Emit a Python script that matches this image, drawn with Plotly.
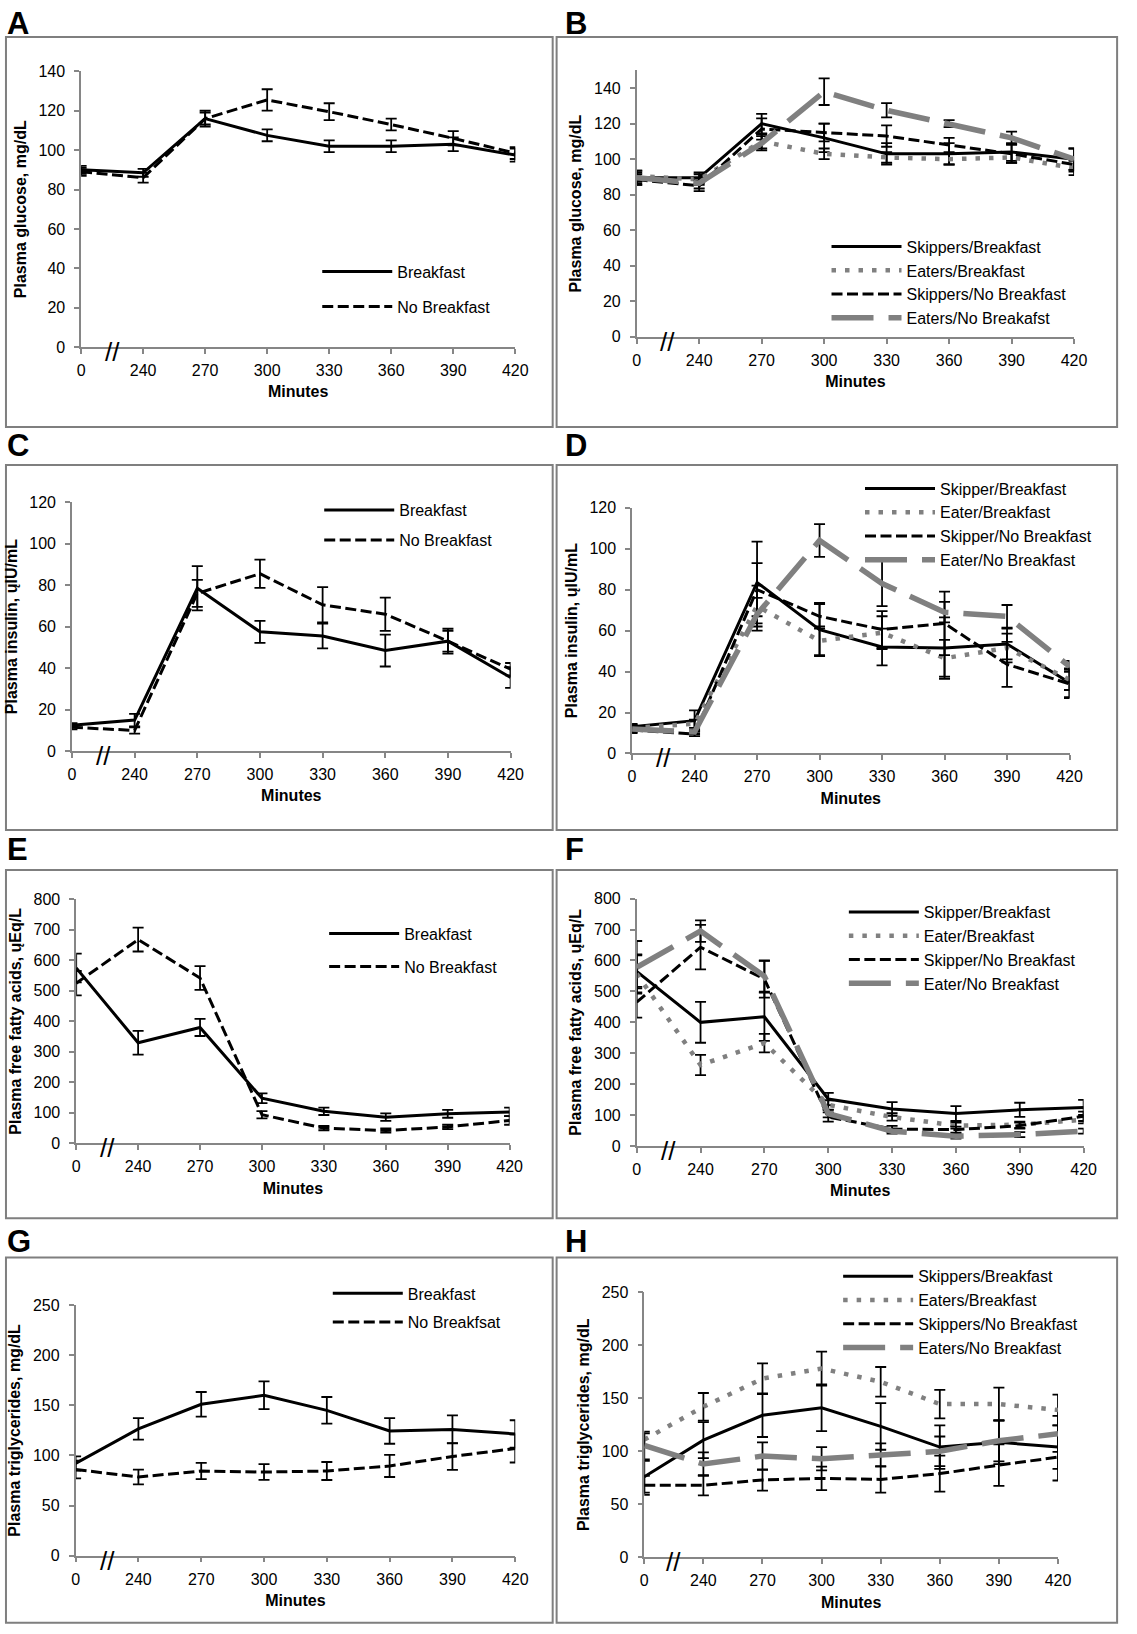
import plotly.graph_objects as go

# ---------------- data ----------------
minutes = ["0", "240", "270", "300", "330", "360", "390", "420"]

# A: plasma glucose
glu_breakfast = [90, 88.5, 116, 107.5, 102, 102, 103, 97.5]
glu_breakfast_err = [2, 2, 3, 3, 3, 3, 3.5, 3.3]
glu_nobreakfast = [89, 86, 116, 125.5, 119.5, 113, 106, 98.5]
glu_nobreakfast_err = [2, 2.5, 4, 5.4, 4.3, 3, 3.6, 3]

# B: plasma glucose by habitual group
glu_skip_b = [89.5, 89.5, 120, 112, 103, 103, 104, 100]
glu_skip_b_err = [4, 3, 5.5, 8, 6, 6, 5, 6]
glu_eat_b = [90.5, 88.5, 110, 103, 101, 100, 101, 95]
glu_eat_b_err = [3, 3, 4, 3, 3, 3, 3, 4]
glu_skip_nb = [88.5, 85, 117, 115, 113, 108, 103, 97]
glu_skip_nb_err = [3, 3, 6, 5, 6, 4, 5, 4]
glu_eat_nb = [89.5, 86.5, 109, 138, 127.5, 120, 112, 100]
glu_eat_nb_err = [3, 3, 4, 7.5, 4, 2, 3.5, 6]

# C: plasma insulin
ins_breakfast = [12.5, 15, 78.5, 57.5, 55.5, 48.5, 53, 35.5]
ins_breakfast_err = [1, 3, 10.7, 5.3, 6, 7.7, 5, 5]
ins_nobreakfast = [11.5, 10, 76, 85.5, 70.5, 66, 53, 39.5]
ins_nobreakfast_err = [1, 1.5, 6.5, 6.8, 8.5, 8, 6, 3]

# D: plasma insulin by habitual group
ins_skip_b = [13, 16, 83.5, 60.5, 52, 51.5, 53.5, 34.5]
ins_skip_b_err = [1.5, 5, 20, 13, 9, 15, 7.5, 7]
ins_eat_b = [12.5, 14.5, 72, 55, 59, 46.5, 51.5, 36]
ins_eat_b_err = [1.5, 2, 10, 7, 8, 9, 7, 5]
ins_skip_nb = [11.5, 9.5, 80, 67, 60.5, 63.5, 43.5, 34]
ins_skip_nb_err = [1.5, 1, 13, 6, 9, 15.5, 11, 7]
ins_eat_nb = [12, 10.5, 68, 104, 83, 69, 67, 42.5]
ins_eat_nb_err = [1.5, 1, 8, 8, 11, 5, 5.5, 2.7]

# E: plasma free fatty acids
ffa_breakfast = [575, 330, 380, 148, 105, 86, 97, 103]
ffa_breakfast_err = [47, 39, 28, 16, 12, 12, 13, 14]
ffa_nobreakfast = [525, 668, 542, 94, 50, 42, 54, 75]
ffa_nobreakfast_err = [40, 39, 39, 12, 7, 7, 7, 14]

# F: plasma free fatty acids by habitual group
ffa_skip_b = [565, 400, 418, 152, 120, 105, 117, 125]
ffa_skip_b_err = [55, 66, 78, 20, 22, 24, 23, 24]
ffa_eat_b = [557, 262, 333, 133, 94, 66, 69, 85]
ffa_eat_b_err = [60, 33, 30, 15, 12, 10, 10, 12]
ffa_skip_nb = [465, 643, 540, 94, 55, 53, 66, 96]
ffa_skip_nb_err = [50, 72, 60, 15, 10, 10, 10, 15]
ffa_eat_nb = [578, 695, 549, 105, 48, 32, 37, 48]
ffa_eat_nb_err = [85, 35, 50, 12, 8, 8, 8, 8]

# G: plasma triglycerides
tg_breakfast = [92, 126.5, 151, 160, 145, 124.5, 126, 121.5]
tg_breakfast_err = [7, 10.7, 12.3, 13.8, 13.3, 12.8, 14, 13.6]
tg_nobreakfast = [86, 78.5, 84.5, 83.5, 84.5, 89.5, 99, 107]
tg_nobreakfast_err = [8.8, 7.4, 8.2, 7.9, 9, 11, 13.3, 14]

# H: plasma triglycerides by habitual group
tg_skip_b = [76, 110.5, 134, 141, 123.5, 104, 108.5, 104]
tg_skip_b_err = [15, 17, 20.5, 22, 22, 20.5, 20.5, 20.5]
tg_eat_b = [111, 142, 168.5, 178, 165.5, 144.5, 144.5, 139]
tg_eat_b_err = [6, 13, 14.5, 16, 14, 13.5, 15.5, 14.5]
tg_skip_nb = [68, 68, 73, 74.5, 73.5, 79, 87, 94.5]
tg_skip_nb_err = [9, 9.5, 10, 11, 12.5, 17, 19.5, 22]
tg_eat_nb = [105.5, 88, 95.5, 93, 96.5, 100, 110, 116.5]
tg_eat_nb_err = [13, 11, 13, 11, 11, 14, 19.5, 17]

# ---------------- styling / layout ----------------
W, H = 1137, 1634
FONT = "Liberation Sans, Arial, sans-serif"
AXIS_GRAY = "#868686"
KEY_W = 70  # legend key length (px)


def fx(px):
    return px / W


def fy(py):
    return 1 - py / H


STYLES = {
    "solid": dict(color="#000000", width=3, dash="solid"),
    "dot": dict(color="#808080", width=4.5, dash="4.5px,9px"),
    "dash": dict(color="#000000", width=3, dash="11px,4.5px"),
    "longdash": dict(color="#808080", width=5.5, dash="42px,15px"),
}

panels = [
    dict(label="A", ytitle="Plasma glucose, mg/dL", yrange=[0, 140], dtick=20,
         area=(78.3, 519, 64, 342.7), box=(2, 29.3, 557, 423.3), lab=(1, 16),
         leg=(400, [263, 298]),
         series=[("Breakfast", glu_breakfast, glu_breakfast_err, "solid"),
                 ("No Breakfast", glu_nobreakfast, glu_nobreakfast_err, "dash")]),
    dict(label="B", ytitle="Plasma glucose, mg/dL", yrange=[0, 150], dtick=20,
         area=(642.3, 1086.3, 63, 332.3), box=(561, 29.3, 1130, 423.3), lab=(567, 16),
         leg=(917, [242, 263, 284, 305]),
         series=[("Skippers/Breakfast", glu_skip_b, glu_skip_b_err, "solid"),
                 ("Eaters/Breakfast", glu_eat_b, glu_eat_b_err, "dot"),
                 ("Skippers/No Breakfast", glu_skip_nb, glu_skip_nb_err, "dash"),
                 ("Eaters/No Breakafst", glu_eat_nb, glu_eat_nb_err, "longdash")]),
    dict(label="C", ytitle="Plasma insulin, ųIU/mL", yrange=[0, 120], dtick=20,
         area=(69, 514.3, 499.3, 751), box=(2, 461.7, 557, 830.7), lab=(1, 442),
         leg=(402, [504, 534]),
         series=[("Breakfast", ins_breakfast, ins_breakfast_err, "solid"),
                 ("No Breakfast", ins_nobreakfast, ins_nobreakfast_err, "dash")]),
    dict(label="D", ytitle="Plasma insulin, ųIU/mL", yrange=[0, 120], dtick=20,
         area=(637.6, 1081.7, 505, 753.3), box=(561, 461.7, 1130, 830.7), lab=(567, 442),
         leg=(951, [490, 509, 527, 546]),
         series=[("Skipper/Breakfast", ins_skip_b, ins_skip_b_err, "solid"),
                 ("Eater/Breakfast", ins_eat_b, ins_eat_b_err, "dot"),
                 ("Skipper/No Breakfast", ins_skip_nb, ins_skip_nb_err, "dash"),
                 ("Eater/No Breakfast", ins_eat_nb, ins_eat_nb_err, "longdash")]),
    dict(label="E", ytitle="Plasma free fatty acids, ųEq/L", yrange=[0, 800], dtick=100,
         area=(73.3, 513.3, 900.7, 1147.3), box=(2, 871, 557, 1223), lab=(1, 850),
         leg=(407, [932, 965]),
         series=[("Breakfast", ffa_breakfast, ffa_breakfast_err, "solid"),
                 ("No Breakfast", ffa_nobreakfast, ffa_nobreakfast_err, "dash")]),
    dict(label="F", ytitle="Plasma free fatty acids, ųEq/L", yrange=[0, 800], dtick=100,
         area=(642.3, 1096, 900, 1150), box=(561, 871, 1130, 1223), lab=(567, 850),
         leg=(934.6, [918, 937, 956, 974]),
         series=[("Skipper/Breakfast", ffa_skip_b, ffa_skip_b_err, "solid"),
                 ("Eater/Breakfast", ffa_eat_b, ffa_eat_b_err, "dot"),
                 ("Skipper/No Breakfast", ffa_skip_nb, ffa_skip_nb_err, "dash"),
                 ("Eater/No Breakfast", ffa_eat_nb, ffa_eat_nb_err, "longdash")]),
    dict(label="G", ytitle="Plasma triglycerides, mg/dL", yrange=[0, 250], dtick=50,
         area=(72.7, 519, 1310.7, 1564), box=(2, 1262.7, 557, 1631.7), lab=(1, 1246),
         leg=(410.7, [1295.7, 1324.3]),
         series=[("Breakfast", tg_breakfast, tg_breakfast_err, "solid"),
                 ("No Breakfsat", tg_nobreakfast, tg_nobreakfast_err, "dash")]),
    dict(label="H", ytitle="Plasma triglycerides, mg/dL", yrange=[0, 250], dtick=50,
         area=(650, 1070, 1297.7, 1565.7), box=(561, 1262.7, 1130, 1631.7), lab=(567, 1246),
         leg=(928.8, [1284, 1304, 1324, 1344]),
         series=[("Skippers/Breakfast", tg_skip_b, tg_skip_b_err, "solid"),
                 ("Eaters/Breakfast", tg_eat_b, tg_eat_b_err, "dot"),
                 ("Skippers/No Breakfast", tg_skip_nb, tg_skip_nb_err, "dash"),
                 ("Eaters/No Breakfast", tg_eat_nb, tg_eat_nb_err, "longdash")]),
]

fig = go.Figure()
layout = dict(
    width=W, height=H, margin=dict(l=0, r=0, t=0, b=0),
    paper_bgcolor="white", plot_bgcolor="rgba(0,0,0,0)",
    font=dict(family=FONT, size=16, color="#000000"),
    showlegend=True, shapes=[], annotations=[],
)

LEG_FONT = 16
ITEM_H = LEG_FONT * 1.3 + 3

for i, p in enumerate(panels, start=1):
    xa = "x" if i == 1 else f"x{i}"
    ya = "y" if i == 1 else f"y{i}"
    leg = "legend" if i == 1 else f"legend{i}"
    x0, x1, ytop, ybot = p["area"]

    rows = p["leg"][1]
    n = len(rows)
    gap = 0
    if n > 1:
        spacing = (rows[-1] - rows[0]) / (n - 1)
        gap = max(0.0, spacing - ITEM_H)
    block_center = (rows[0] + rows[-1]) / 2
    block_h = n * ITEM_H + (n - 1) * gap
    leg_top = block_center - block_h / 2 - 2

    for j, (name, vals, errs, sk) in enumerate(p["series"]):
        st = STYLES[sk]
        fig.add_trace(go.Scatter(
            x=minutes, y=vals, name=name, mode="lines",
            line=dict(color=st["color"], width=st["width"], dash=st["dash"]),
            error_y=dict(type="data", array=errs, visible=True,
                         color="#000000", thickness=1.8, width=5.5),
            xaxis=xa, yaxis=ya, legend=leg, legendgroup=f"{p['label']}{j}",
            hoverinfo="skip",
        ))

    layout[leg] = dict(
        x=fx(p["leg"][0] - KEY_W - 12), y=fy(leg_top), xanchor="left", yanchor="top",
        bgcolor="rgba(0,0,0,0)", borderwidth=0, tracegroupgap=gap, itemwidth=KEY_W,
        font=dict(family=FONT, size=LEG_FONT, color="#000000"),
        itemclick=False, itemdoubleclick=False,
    )

    axis_common = dict(
        showline=True, linecolor=AXIS_GRAY, linewidth=1.5,
        ticks="outside", ticklen=5, tickwidth=1.5, tickcolor=AXIS_GRAY,
        showgrid=False, zeroline=False, fixedrange=True,
        tickfont=dict(family=FONT, size=16, color="#000000"),
    )
    layout["xaxis" if i == 1 else f"xaxis{i}"] = dict(
        axis_common, type="category", categoryorder="array", categoryarray=minutes,
        range=[0, len(minutes) - 1], domain=[fx(x0), fx(x1)],
        anchor=ya, ticklabelstandoff=3,
        title=dict(text="Minutes", standoff=8,
                   font=dict(family=FONT, size=16, weight="bold", color="#000000")),
    )
    layout["yaxis" if i == 1 else f"yaxis{i}"] = dict(
        axis_common, range=p["yrange"], dtick=p["dtick"], tick0=0,
        domain=[fy(ybot), fy(ytop)], anchor=xa, ticklabelstandoff=6,
        title=dict(text=p["ytitle"], standoff=8,
                   font=dict(family=FONT, size=16, weight="bold", color="#000000")),
    )

    bx0, by0, bx1, by1 = p["box"]
    layout["shapes"].append(dict(
        type="rect", xref="paper", yref="paper",
        x0=fx(bx0), x1=fx(bx1), y0=fy(by1), y1=fy(by0),
        line=dict(color="#7f7f7f", width=2), fillcolor="rgba(0,0,0,0)", layer="below",
    ))
    layout["annotations"].append(dict(
        text=p["label"], xref="paper", yref="paper",
        x=fx(p["lab"][0]), y=fy(p["lab"][1]), xanchor="left", yanchor="middle",
        showarrow=False, font=dict(family=FONT, size=31, weight="bold", color="#000000"),
    ))
    # axis break mark between 0 and 240
    layout["annotations"].append(dict(
        text="//", xref=xa, yref=ya, x=0.5, y=0, xanchor="center", yanchor="middle",
        yshift=-5, showarrow=False,
        font=dict(family=FONT, size=26, color="#000000"),
    ))

fig.update_layout(**layout)
fig.write_html("out.html", config={"displayModeBar": False},
               post_script="document.body.style.margin='0px';")
